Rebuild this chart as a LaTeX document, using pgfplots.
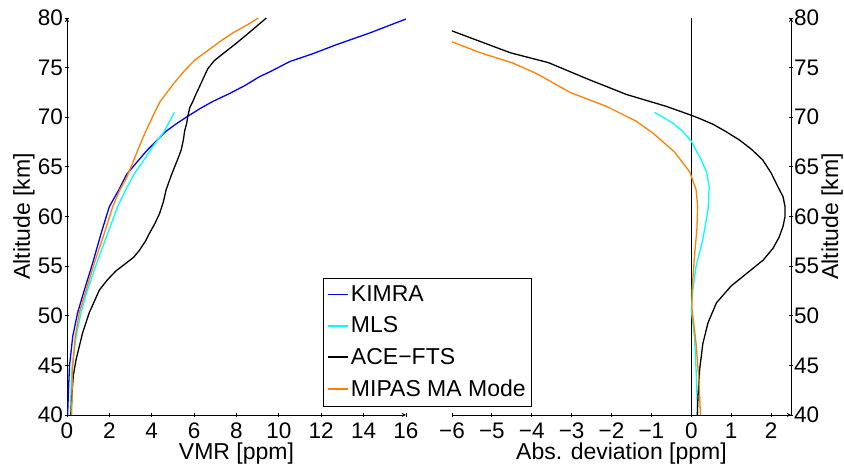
\documentclass[border=0pt]{standalone}
\usepackage{fontspec}
\setmainfont{Liberation Sans}
\usepackage{pgfplots}
\pgfplotsset{compat=1.18}
\definecolor{mipasorange}{RGB}{255,128,0}
\definecolor{mcyan}{rgb}{0,1,1}
\definecolor{mblue}{rgb}{0,0,1}
\begin{document}
\fontsize{23}{27}\selectfont
\begin{tikzpicture}
\useasboundingbox (0,0) rectangle (844pt,465pt);
\pgfplotsset{
  common/.style={
    scale only axis, width=339pt, height=397pt,
    ymin=40, ymax=80, ytick={40,45,...,80},
    tick align=inside, major tick length=4pt,
    axis line style={-, line width=0.9pt},
    every tick/.style={black, line width=0.9pt},
    tick label style={font=\fontsize{22.5}{26}\selectfont},
    /pgf/number format/assume math mode=true,
    anchor=south west, clip=false,
    every axis plot/.append style={line width=1.3pt},
  },
}
\begin{axis}[common, at={(67pt,50pt)},
  xmin=0, xmax=16, xtick={0,2,...,16},
  axis x line=bottom, axis y line=left,
  xlabel={VMR [ppm]}, ylabel={Altitude [km]},
  every axis x label/.style={at={(axis description cs:0.5,0)}, anchor=base, yshift=-45pt, inner sep=0pt, font=\fontsize{23}{27}\selectfont},
  every axis y label/.style={at={(axis description cs:0,0.5)}, rotate=90, anchor=base, yshift=37pt, inner sep=0pt, font=\fontsize{23}{27}\selectfont},
  xticklabel style={anchor=base, yshift=-22pt, inner sep=0pt},
  yticklabel style={inner xsep=2pt, inner ysep=0pt},
  legend cell align=left,
  legend image code/.code={\draw[#1] (0pt,0.5pt) -- (20pt,0.5pt);},
  legend style={at={(axis description cs:0.755,0.02)}, anchor=south west, draw=black, line width=0.9pt,
    fill=white, font=\fontsize{23}{27}\selectfont, row sep=8pt, inner xsep=4pt, inner ysep=5pt},
]
\addplot[mblue, forget plot] coordinates {(0.03,40) (0.07,42.5) (0.12,45) (0.27,47.9) (0.5,50.3) (0.82,52.6) (1.21,55.3) (1.61,58.3) (2.0,61.0) (2.45,62.7) (2.8,64.2) (3.27,65.4) (3.75,66.6) (4.21,67.6) (4.68,68.6) (5.2,69.4) (5.7,70.1) (6.3,70.9) (6.89,71.6) (7.68,72.4) (8.4,73.2) (9.1,74.1) (9.6,74.6) (10.5,75.6) (11.6,76.4) (12.7,77.3) (14.3,78.5) (16,79.9)};
\addplot[mcyan, forget plot] coordinates {(0.16,40) (0.19,42.5) (0.24,44.9) (0.43,47.9) (0.66,50.3) (0.97,52.6) (1.4,55.3) (1.92,58.3) (2.39,61.0) (2.8,62.8) (3.2,64.4) (3.6,65.6) (4.1,67.2) (4.57,68.5) (5.07,70.5)};
\addplot[black, forget plot] coordinates {(0.19,40) (0.23,42) (0.3,44) (0.43,45.6) (0.74,48.3) (1.05,50.3) (1.53,52.6) (1.9,53.6) (2.3,54.5) (2.79,55.3) (3.15,55.9) (3.42,56.6) (3.7,57.5) (3.89,58.3) (4.15,59.3) (4.37,60.3) (4.55,61.5) (4.68,62.7) (4.88,63.9) (5.08,65.0) (5.25,65.9) (5.39,66.7) (5.5,67.8) (5.55,68.6) (5.65,69.4) (5.7,70.1) (5.8,71.0) (5.94,71.6) (6.1,72.4) (6.26,73.1) (6.45,74.0) (6.65,74.9) (6.95,75.7) (7.36,76.4) (7.9,77.3) (8.47,78.3) (9.41,80)};
\addplot[mipasorange, forget plot] coordinates {(0.22,40) (0.24,42.5) (0.27,44.9) (0.39,47.9) (0.58,50.3) (0.9,52.6) (1.29,55.3) (1.76,58.3) (2.16,61.0) (2.5,62.7) (2.79,63.8) (3.1,65.4) (3.4,67) (3.7,68.5) (4.05,70.1) (4.4,71.6) (5.0,73.3) (5.55,74.7) (6.05,75.8) (6.57,76.6) (7.2,77.6) (7.83,78.5) (8.5,79.3) (9.03,80)};
\addlegendimage{color=mblue, line width=1.6pt}
\addlegendentry{KIMRA}
\addlegendimage{color=mcyan, line width=1.6pt}
\addlegendentry{MLS}
\addlegendimage{color=black, line width=1.6pt}
\addlegendentry{ACE−FTS}
\addlegendimage{color=mipasorange, line width=1.6pt}
\addlegendentry{MIPAS MA Mode}
\end{axis}
\begin{axis}[common, at={(452pt,50pt)},
  xmin=-6, xmax=2.5, xtick={-6,-5,...,2},
  xticklabels={−6,−5,−4,−3,−2,−1,0,1,2},
  axis x line=bottom, axis y line=right,
  xlabel={Abs. deviation [ppm]}, ylabel={Altitude [km]},
  every axis x label/.style={at={(axis description cs:0.5,0)}, anchor=base, yshift=-45pt, inner sep=0pt, font=\fontsize{23}{27}\selectfont},
  every axis y label/.style={at={(axis description cs:1,0.5)}, rotate=90, anchor=base, yshift=-47pt, inner sep=0pt, font=\fontsize{23}{27}\selectfont},
  xticklabel style={anchor=base, yshift=-22pt, inner sep=0pt},
  yticklabel style={inner xsep=1pt, inner ysep=0pt},
]
\addplot[black] coordinates {(0,40) (0,80)};
\addplot[mcyan] coordinates {(0.16,40) (0.12,44.6) (0.08,47.9) (0.0,50.6) (0.04,52.6) (0.12,55.0) (0.29,57.7) (0.42,60.7) (0.45,63.0) (0.38,64.5) (0.25,65.7) (0.1,66.8) (0,67.6) (-0.22,68.6) (-0.46,69.4) (-0.92,70.5)};
\addplot[black] coordinates {(0.15,40) (0.17,42) (0.21,44.6) (0.29,47.2) (0.42,49.3) (0.63,51.3) (1.0,53.0) (1.4,54.3) (1.8,55.6) (2.05,56.8) (2.2,57.9) (2.3,59.0) (2.35,60.0) (2.35,61.0) (2.3,62.0) (2.17,63.0) (2.0,64.4) (1.79,65.7) (1.5,66.8) (1.21,67.7) (0.85,68.6) (0.54,69.3) (0.25,69.8) (0,70.2) (-0.63,71.1) (-1.63,72.3) (-2.63,73.9) (-3.58,75.5) (-4.54,76.5) (-6.0,78.7)};
\addplot[mipasorange] coordinates {(0.23,40) (0.19,43.6) (0.12,47.2) (0.02,50.6) (0.02,52.6) (0.08,56.0) (0.14,58.7) (0.16,61.0) (0.12,62.7) (-0.04,64.5) (-0.42,66.5) (-0.96,68.4) (-1.38,69.6) (-2.13,71.1) (-3.04,72.5) (-3.88,74.4) (-4.5,75.5) (-5.29,76.5) (-6.0,77.6)};
\end{axis}
\end{tikzpicture}
\end{document}
